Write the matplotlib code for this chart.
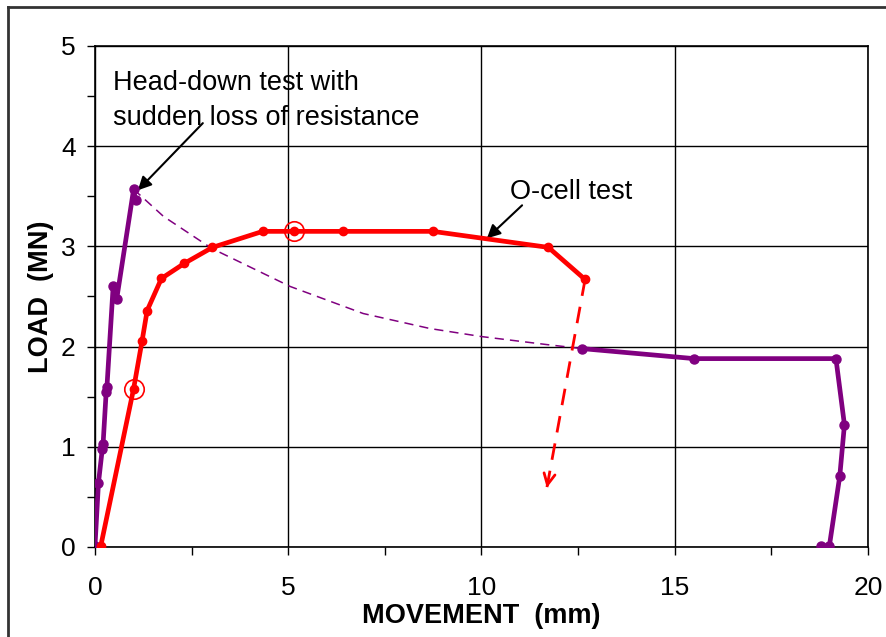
import matplotlib.pyplot as plt
from matplotlib.lines import Line2D

plt.rcParams['font.family'] = ['Liberation Sans', 'DejaVu Sans']

# head-down test (purple): loading branch, then post-failure branch
head_up_x = [0.0, 0.09, 0.19, 0.21, 0.29, 0.31, 0.47, 0.56, 1.0, 1.05]
head_up_y = [0.01, 0.64, 0.98, 1.03, 1.55, 1.6, 2.6, 2.47, 3.57, 3.46]
head_end_x = [12.6, 15.5, 19.17, 19.39, 19.27, 19.0, 18.78]
head_end_y = [1.98, 1.88, 1.88, 1.22, 0.71, 0.01, 0.01]

# dashed trend after sudden loss of resistance
trend_x = [1.0, 1.77, 3.02, 5.05, 6.94, 8.67, 10.0, 11.69, 12.6]
trend_y = [3.57, 3.30, 2.98, 2.60, 2.33, 2.18, 2.10, 2.02, 1.98]

# O-cell test (red)
ocell_x = [0.15, 1.0, 1.22, 1.35, 1.72, 2.31, 3.04, 4.34, 5.16, 6.42, 8.74, 11.73, 12.68]
ocell_y = [0.01, 1.58, 2.06, 2.36, 2.68, 2.83, 2.99, 3.15, 3.15, 3.15, 3.15, 2.99, 2.67]

circled_x = [1.0, 5.16]
circled_y = [1.58, 3.15]

# extrapolated O-cell drop
drop_x = [12.68, 11.69]
drop_y = [2.67, 0.59]

fig = plt.figure(figsize=(8.86, 6.37), dpi=100)
ax = fig.add_axes([0.1072, 0.1413, 0.8725, 0.7865])

purple = '#800080'
ax.plot(trend_x, trend_y, color=purple, lw=1.1, ls=(0, (6, 4)), zorder=3)
ax.plot(head_up_x, head_up_y, color=purple, lw=3.4, marker='o', ms=6.5, zorder=4)
ax.plot(head_end_x, head_end_y, color=purple, lw=3.4, marker='o', ms=6.5, zorder=4)
ax.plot(ocell_x, ocell_y, color='red', lw=3.4, marker='o', ms=6, zorder=5)
ax.plot(circled_x, circled_y, ls='none', marker='o', ms=14, mfc='none',
        mec='red', mew=1.2, zorder=6)
ax.plot(drop_x, drop_y, color='red', lw=2, ls=(0, (6, 4)), zorder=3)
ax.annotate('', xy=(drop_x[1], drop_y[1]),
            xytext=(drop_x[1] + 0.03, drop_y[1] + 0.06),
            arrowprops=dict(arrowstyle='->', color='red', lw=2,
                            mutation_scale=20, shrinkA=0, shrinkB=0))

ax.set_xlim(0, 20)
ax.set_ylim(0, 5)
ax.set_xticks([0, 5, 10, 15, 20])
ax.set_yticks([0, 1, 2, 3, 4, 5])
ax.set_xticks([2.5, 7.5, 12.5, 17.5], minor=True)
ax.set_yticks([0.5, 1.5, 2.5, 3.5, 4.5], minor=True)
ax.tick_params(which='both', direction='out', length=6, width=1, color='black')
ax.tick_params(labelsize=19)
ax.tick_params(axis='x', pad=15)
ax.tick_params(axis='y', pad=8)
ax.grid(True, color='black', lw=1)
ax.set_axisbelow(True)
for s in ax.spines.values():
    s.set_linewidth(1.2)

ax.set_xlabel('MOVEMENT  (mm)', fontsize=19.5, fontweight='bold', labelpad=2)
ax.set_ylabel('LOAD  (MN)', fontsize=19.5, fontweight='bold', labelpad=5)

ax.text(0.47, 4.56, 'Head-down test with', fontsize=19.5, va='baseline', zorder=1)
ax.text(0.47, 4.21, 'sudden loss of resistance', fontsize=19.5, va='baseline', zorder=1)
ax.annotate('', xy=(1.11, 3.56), xytext=(2.79, 4.23),
            arrowprops=dict(arrowstyle='-|>', color='black', lw=1.5,
                            mutation_scale=20, shrinkA=0, shrinkB=0))

ax.text(10.74, 3.47, 'O-cell test', fontsize=19.5, va='baseline')
ax.annotate('', xy=(10.14, 3.08), xytext=(11.05, 3.41),
            arrowprops=dict(arrowstyle='-|>', color='black', lw=1.5,
                            mutation_scale=20, shrinkA=0, shrinkB=0))

# outer frame
fig.add_artist(Line2D([8 / 886, 1], [1 - 7 / 637, 1 - 7 / 637],
                      transform=fig.transFigure, color='#333333', lw=2))
fig.add_artist(Line2D([8 / 886, 8 / 886], [0, 1 - 7 / 637],
                      transform=fig.transFigure, color='#333333', lw=2))

fig.savefig('out.png', dpi=100)
